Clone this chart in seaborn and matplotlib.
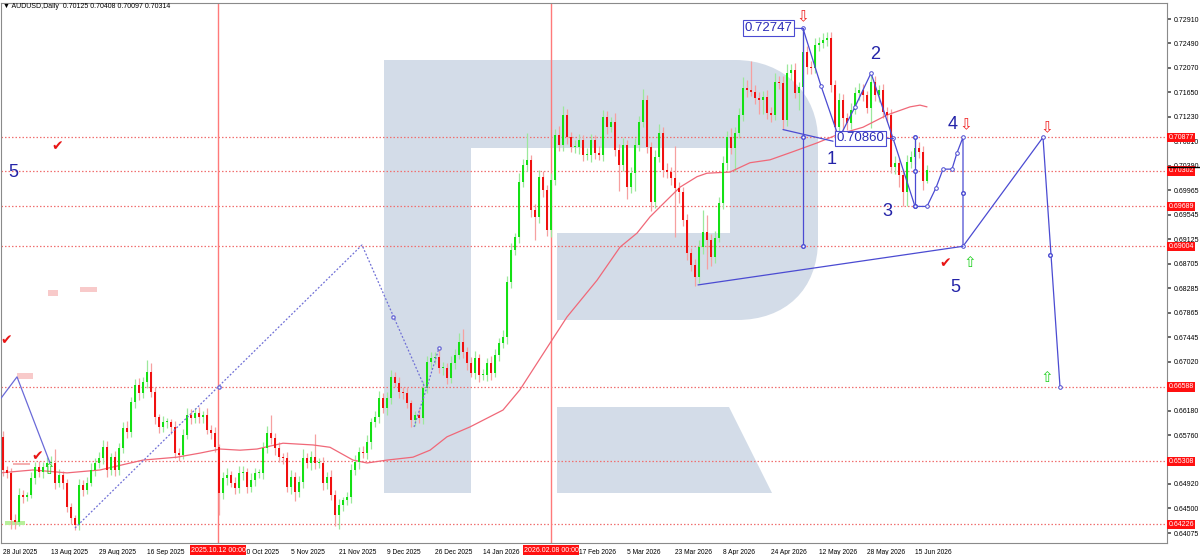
import numpy as np
import pandas as pd
import matplotlib
matplotlib.use("Agg")
import matplotlib.pyplot as plt
import seaborn as sns
from matplotlib import transforms
from matplotlib.patches import Rectangle, Polygon, PathPatch
from matplotlib.path import Path
from matplotlib.lines import Line2D

# ---------------- data ----------------
first_open = 0.6573
closes = [
0.6516, 0.6511, 0.6430, 0.6427, 0.6473, 0.6470, 0.6473, 0.6502, 0.6521, 0.6512,
0.6521, 0.6528, 0.6528, 0.6494, 0.6507, 0.6494, 0.6452, 0.6433, 0.6421, 0.6490,
0.6482, 0.6494, 0.6516, 0.6528, 0.6537, 0.6555, 0.6516, 0.6538, 0.6516, 0.6554,
0.6588, 0.6581, 0.6633, 0.6662, 0.6648, 0.6667, 0.6684, 0.6650, 0.6607, 0.6590,
0.6598, 0.6598, 0.6590, 0.6545, 0.6542, 0.6576, 0.6610, 0.6605, 0.6614, 0.6607,
0.6610, 0.6585, 0.6580, 0.6555, 0.6476, 0.6502, 0.6507, 0.6494, 0.6485, 0.6511,
0.6512, 0.6487, 0.6499, 0.6511, 0.6511, 0.6554, 0.6580, 0.6571, 0.6554, 0.6538,
0.6537, 0.6487, 0.6504, 0.6478, 0.6495, 0.6537, 0.6528, 0.6538, 0.6528, 0.6528,
0.6494, 0.6504, 0.6473, 0.6439, 0.6456, 0.6464, 0.6470, 0.6516, 0.6530, 0.6547,
0.6545, 0.6564, 0.6598, 0.6607, 0.6640, 0.6622, 0.6640, 0.6676, 0.6666, 0.6650,
0.6648, 0.6631, 0.6602, 0.6610, 0.6605, 0.6657, 0.6702, 0.6708, 0.6710, 0.6691,
0.6691, 0.6674, 0.6700, 0.6714, 0.6736, 0.6719, 0.6700, 0.6683, 0.6708, 0.6679,
0.6679, 0.6700, 0.6683, 0.6714, 0.6734, 0.6745, 0.6839, 0.6894, 0.6916, 0.7011,
0.7040, 0.7049, 0.6963, 0.6951, 0.7020, 0.6997, 0.6928, 0.7014, 0.7092, 0.7075,
0.7126, 0.7088, 0.7071, 0.7071, 0.7083, 0.7057, 0.7057, 0.7083, 0.7061, 0.7057,
0.7123, 0.7105, 0.7114, 0.7066, 0.7040, 0.7075, 0.7002, 0.7026, 0.7075, 0.7114,
0.7151, 0.7071, 0.6976, 0.7054, 0.7095, 0.7031, 0.7028, 0.7018, 0.7001, 0.6994,
0.6946, 0.6889, 0.6868, 0.6848, 0.6899, 0.6925, 0.6911, 0.6882, 0.6915, 0.6975,
0.7044, 0.7088, 0.7069, 0.7095, 0.7126, 0.7172, 0.7169, 0.7166, 0.7155, 0.7152,
0.7157, 0.7130, 0.7126, 0.7183, 0.7181, 0.7117, 0.7198, 0.7203, 0.7164, 0.7174,
0.7234, 0.7209, 0.7207, 0.7246, 0.7250, 0.7255, 0.7258, 0.7178, 0.7105, 0.7152,
0.7121, 0.7112, 0.7135, 0.7164, 0.7169, 0.7160, 0.7138, 0.7183, 0.7160, 0.7169,
0.7131, 0.7126, 0.7037, 0.7044, 0.7023, 0.6994, 0.7045, 0.7054, 0.7069, 0.7062,
0.70125, 0.70314]

# wick lengths above / below the body, in pips
up_pips = [
10, 6, 8, 10, 12, 8, 6, 10, 8, 10,
8, 10, 12, 24, 10, 8, 6, 8, 6, 10,
8, 10, 12, 8, 10, 12, 10, 8, 10, 8,
10, 12, 8, 10, 12, 8, 21, 15, 8, 6,
10, 8, 6, 10, 8, 10, 12, 10, 8, 10,
8, 12, 8, 10, 6, 10, 12, 8, 10, 12,
10, 8, 12, 8, 6, 10, 12, 30, 8, 10,
8, 10, 12, 8, 10, 15, 8, 10, 40, 8,
10, 8, 12, 8, 10, 6, 8, 10, 12, 8,
10, 12, 8, 10, 12, 8, 10, 12, 8, 10,
8, 10, 6, 8, 10, 12, 10, 10, 8, 12,
10, 8, 12, 10, 15, 22, 8, 10, 12, 8,
10, 8, 12, 10, 8, 12, 10, 12, 8, 15,
10, 46, 8, 10, 12, 10, 8, 12, 10, 15,
15, 10, 8, 12, 10, 8, 12, 10, 8, 12,
12, 10, 8, 15, 10, 12, 8, 10, 12, 10,
20, 10, 8, 12, 15, 10, 12, 8, 55, 10,
8, 10, 8, 10, 12, 38, 30, 10, 12, 10,
12, 10, 15, 10, 12, 20, 15, 50, 12, 10,
10, 12, 10, 15, 10, 12, 15, 10, 12, 8,
41, 10, 10, 12, 10, 12, 11, 10, 8, 12,
10, 8, 12, 10, 12, 10, 8, 12, 10, 8,
10, 8, 10, 12, 8, 10, 12, 10, 20, 10,
10, 9]
dn_pips = [
10, 8, 15, 12, 8, 10, 8, 6, 10, 8,
10, 8, 6, 10, 8, 10, 8, 10, 8, 8,
10, 8, 6, 10, 8, 10, 12, 8, 10, 8,
8, 10, 8, 10, 12, 8, 10, 8, 12, 10,
8, 10, 12, 8, 10, 8, 6, 10, 8, 10,
10, 8, 10, 8, 37, 10, 12, 8, 10, 8,
12, 10, 8, 10, 8, 10, 8, 10, 12, 8,
10, 8, 12, 15, 8, 10, 8, 12, 10, 8,
12, 10, 8, 20, 25, 10, 8, 10, 8, 12,
8, 10, 12, 8, 10, 8, 12, 10, 8, 10,
10, 8, 12, 10, 8, 10, 8, 12, 10, 8,
12, 10, 8, 10, 8, 10, 12, 8, 10, 12,
8, 10, 12, 8, 10, 8, 12, 10, 8, 10,
8, 10, 12, 40, 10, 12, 10, 12, 8, 10,
10, 12, 8, 10, 12, 10, 8, 12, 10, 8,
10, 12, 8, 10, 45, 10, 20, 10, 30, 10,
8, 10, 15, 10, 8, 12, 10, 12, 85, 20,
10, 12, 10, 15, 10, 12, 50, 15, 10, 8,
10, 12, 10, 40, 8, 10, 12, 8, 10, 25,
25, 10, 12, 8, 10, 15, 10, 12, 8, 30,
10, 12, 10, 8, 10, 8, 10, 12, 15, 10,
25, 12, 10, 8, 12, 10, 8, 35, 10, 12,
10, 12, 10, 12, 20, 24, 25, 10, 12, 10,
15, 3]

# date labels every 12 bars ("2 Oct" and "30 Jan" are covered by the red markers)
date_labels = ["28 Jul 2025", "13 Aug 2025", "29 Aug 2025", "16 Sep 2025", "",
               "20 Oct 2025", "5 Nov 2025", "21 Nov 2025", "9 Dec 2025", "26 Dec 2025",
               "14 Jan 2026", "", "17 Feb 2026", "5 Mar 2026", "23 Mar 2026",
               "8 Apr 2026", "24 Apr 2026", "12 May 2026", "28 May 2026", "15 Jun 2026"]
price_ticks = [0.72910, 0.72490, 0.72070, 0.71650, 0.71230, 0.70810, 0.70390, 0.69965,
               0.69545, 0.69125, 0.68705, 0.68285, 0.67865, 0.67445, 0.67020,
               0.66180, 0.65760, 0.64920, 0.64500, 0.64075]
levels = [0.70877, 0.70302, 0.69689, 0.69004, 0.66588, 0.65308, 0.64226]
vline_bars = [53.75, 137.0]
vline_texts = ["2025.10.12 00:00", "2026.02.08 00:00"]

ma_idx = [-0.75, 7.5, 16, 24.25, 35, 43.5, 49.25, 54.25, 59.25, 63.5, 70, 77.5, 81.75,
          87.5, 91, 96, 102.5, 106.75, 111, 116.75, 125, 129.25, 136.75, 141, 148.5,
          154.25, 158.5, 161.75, 166, 169.25, 173.5, 176, 181.75, 186.75, 191.75, 197.5,
          203.5, 208.5, 215, 221, 226.75, 229.25, 231]
ma_val = [0.6511, 0.6516, 0.6511, 0.6516, 0.6533, 0.6538, 0.6545, 0.6552, 0.6550, 0.6552,
          0.6562, 0.6559, 0.6555, 0.6533, 0.6528, 0.6533, 0.6538, 0.6550, 0.6573, 0.6590,
          0.6619, 0.6654, 0.6734, 0.6779, 0.6842, 0.6899, 0.6923, 0.6951, 0.6980, 0.7002,
          0.7020, 0.7026, 0.7028, 0.7044, 0.7049, 0.7063, 0.7078, 0.7092, 0.7105, 0.7126,
          0.7140, 0.7143, 0.7140]

# wave drawing (bar index, price)
wave_x = [200, 204.5, 209, 213, 217, 222.5, 228, 231, 233.25, 235, 237.25, 238.5, 240, 240, 260, 264.25]
wave_y = [0.72747, 0.7176, 0.70860, 0.7140, 0.7198, 0.70860, 0.69689, 0.69689, 0.7001, 0.7033,
          0.7033, 0.7061, 0.70877, 0.69004, 0.70877, 0.66588]
wave_names = ["1", "2", "3", "4", "5", "5"]
wave_name_x = [207.25, 218, 221, 237.4, 238, 2.5]
wave_name_y = [0.70487, 0.72292, 0.69594, 0.71089, 0.68288, 0.70264]

# ---------------- figure ----------------
sns.set_theme(style="white")
plt.rcParams['font.family'] = ['Liberation Sans', 'DejaVu Sans']

W, H = 1200, 555
fig = plt.figure(figsize=(12, 5.55), dpi=100)
fig.patch.set_facecolor("white")
ax = fig.add_axes([1 / W, 12 / H, 1166 / W, 540 / H])
ax.set_facecolor("white")
pix = transforms.Affine2D().scale(1 / W, -1 / H).translate(0, 1) + fig.transFigure

ax.set_xlim(-0.5, 291)
ax.set_ylim(0.63905, 0.73185)

# watermark logo
wm = "#d3dce8"
ax.add_patch(Rectangle((384, 60), 87, 433, transform=pix, fc=wm, ec="none", zorder=0.2))
verts = [(471, 60), (735, 60), (785, 60), (818, 95), (818, 140), (818, 240),
         (818, 290), (785, 320), (737, 320), (557, 320), (557, 233), (730, 233),
         (730, 148), (471, 148), (471, 60)]
codes = [Path.MOVETO, Path.LINETO, Path.CURVE4, Path.CURVE4, Path.CURVE4, Path.LINETO,
         Path.CURVE4, Path.CURVE4, Path.CURVE4, Path.LINETO, Path.LINETO, Path.LINETO,
         Path.LINETO, Path.LINETO, Path.CLOSEPOLY]
ax.add_patch(PathPatch(Path(verts, codes), transform=pix, fc=wm, ec="none", zorder=0.2))
ax.add_patch(Polygon([(557, 407), (729, 407), (772, 493), (557, 493)], closed=True,
                     transform=pix, fc=wm, ec="none", zorder=0.2))

# levels and vertical lines
for p in levels:
    ax.axhline(p, color="#f07070", lw=0.9, ls=(0, (1.2, 1.6)), zorder=1)
for b in vline_bars:
    ax.axvline(b, color="#ff7a7a", lw=1.0, zorder=1)

# candles
c = np.array(closes)
o = np.concatenate([[first_open], c[:-1]])
hi = np.maximum(o, c) + np.array(up_pips) * 0.0001
lo = np.minimum(o, c) - np.array(dn_pips) * 0.0001
idx = np.arange(len(c))
bull = c >= o
body_col = np.where(bull, "#14e014", "#f01010")
wick_col = np.where(bull, "#9ce89c", "#f6a0a0")
ax.vlines(idx, lo, hi, colors=wick_col, lw=0.9, zorder=2)
bottom = np.minimum(o, c)
height = np.maximum(np.abs(c - o), 0.00018)
ax.bar(idx, height, bottom=bottom, width=0.72, color=body_col, linewidth=0, zorder=3)

# moving average
ma_df = pd.DataFrame({"bar": ma_idx, "ma": ma_val})
sns.lineplot(data=ma_df, x="bar", y="ma", ax=ax, color="#f06878", lw=0.9, zorder=2.5,
             sort=False, estimator=None)
ax.set_xlabel("")
ax.set_ylabel("")

# wave drawings
blue = "#4b4bd2"
ax.plot(wave_x, wave_y, color=blue, lw=0.9, zorder=4, marker="o", ms=2.6,
        mfc="white", mec=blue, mew=0.7)
ax.plot([200, 200], [0.72747, 0.69004], color=blue, lw=0.9, zorder=4)
ax.plot([200, 200], [0.70877, 0.69004], ls="none", marker="o", ms=2.6, mfc="white", mec=blue, zorder=4)
ax.plot([195, 207.5], [0.7101, 0.7081], color=blue, lw=0.9, zorder=4)
ax.plot([173.75, 240], [0.6834, 0.69004], color=blue, lw=0.9, zorder=4)
ax.plot([228, 228], [0.70877, 0.69689], color=blue, lw=0.9, zorder=4, marker="o", ms=2.6,
        mfc="white", mec=blue)
ax.plot([228], [0.70302], ls="none", marker="o", ms=2.6, mfc="white", mec=blue, zorder=4)
ax.plot([240], [0.6992], ls="none", marker="o", ms=2.6, mfc="white", mec=blue, zorder=4)
ax.plot([261.75], [0.6886], ls="none", marker="o", ms=2.6, mfc="white", mec=blue, zorder=4)
ax.plot([-0.75, 3.5, 11.75], [0.6637, 0.6676, 0.6528], color="#6a6ad8", lw=0.9, zorder=4)
ax.plot([18, 89.75, 105.5], [0.64163, 0.69026, 0.66569], color="#6f6fd6", lw=0.9,
        ls=(0, (1.5, 1.5)), zorder=4)
ax.plot([102.75, 105.75, 109], [0.65899, 0.66534, 0.67256], color="#6f6fd6", lw=0.9,
        ls=(0, (1.5, 1.5)), zorder=4)
ax.plot([53.9, 97.6, 109], [0.6658, 0.6779, 0.67256], ls="none", marker="o", ms=2.4,
        mfc="white", mec="#6f6fd6", zorder=4)

# price boxes
ax.plot([198, 200], [0.7275, 0.72747], color=blue, lw=0.8, zorder=4)
ax.text(191.3, 0.72755, "0.72747", fontsize=9.5, color="#2b2bb8", ha="center", va="center",
        bbox=dict(boxstyle="square,pad=0.12", fc="white", ec=blue, lw=0.8), zorder=6)
ax.plot([221, 222.5], [0.70860, 0.70860], color=blue, lw=0.8, zorder=4)
ax.text(214.3, 0.70860, "0.70860", fontsize=9.5, color="#2b2bb8", ha="center", va="center",
        bbox=dict(boxstyle="square,pad=0.12", fc="white", ec=blue, lw=0.8), zorder=6)

for t, x, y in zip(wave_names, wave_name_x, wave_name_y):
    ax.text(x, y, t, fontsize=13, color="#2323a8", ha="center", va="center", zorder=6)

# arrows and checks
for x, y in [(200, 0.72945), (240.6, 0.71089), (261, 0.71037)]:
    ax.text(x, y, "\u21e9", fontsize=11, color="#f02020", ha="center", va="center",
            family=["DejaVu Sans"], zorder=6)
for x, y in [(241.75, 0.68734), (261, 0.66741), (11.5, 0.6517)]:
    ax.text(x, y, "\u21e7", fontsize=11, color="#22d022", ha="center", va="center",
            family=["DejaVu Sans"], zorder=6)
for x, y in [(13.5, 0.70728), (0.8, 0.67394), (8.5, 0.6540), (235.5, 0.68717)]:
    ax.text(x, y, "\u2714", fontsize=10, color="#e81515", ha="center", va="center",
            family=["DejaVu Sans"], zorder=6)

# small marks at the left
for (x0, y0, w, h, col) in [(17, 373, 16, 6, "#f8caca"), (48, 290, 10, 6, "#f8caca"),
                            (80, 287, 17, 5, "#f8caca"), (13, 463, 17, 2, "#f4b0b0"),
                            (5, 521, 20, 4, "#b8ef9a")]:
    ax.add_patch(Rectangle((x0, y0), w, h, transform=pix, fc=col, ec="none", zorder=1.5))

# axes styling
for s in ax.spines.values():
    s.set_color("#8a8a8a")
    s.set_linewidth(0.8)
ax.set_xticks(np.arange(0, 229, 12))
ax.set_xticklabels(date_labels, ha="left", fontsize=4.8)
ax.yaxis.tick_right()
ax.set_yticks(price_ticks)
ax.set_yticklabels([f"{p:.5f}" for p in price_ticks], fontsize=5)
ax.tick_params(axis="x", direction="out", length=3, pad=1.2, color="#555555", labelcolor="black")
ax.tick_params(axis="y", direction="out", length=3, pad=1.5, color="#555555", labelcolor="black",
               right=True, left=False)
ax.grid(False)

yt = transforms.blended_transform_factory(ax.transAxes, ax.transData)
for p in levels:
    ax.text(1.0015, p, f"{p:.5f}", transform=yt, fontsize=5, color="white", ha="left",
            va="center", clip_on=False, zorder=10,
            bbox=dict(boxstyle="square,pad=0.18", fc="#ff1010", ec="none"))
fig.add_artist(Line2D([1168, 1200], [167, 167], transform=pix, color="black", lw=1.0))

xt = transforms.blended_transform_factory(ax.transData, pix)
for b, t in zip(vline_bars, vline_texts):
    ax.text(b, 550, t, transform=xt, fontsize=5, color="white", ha="center", va="center",
            clip_on=False, zorder=10,
            bbox=dict(boxstyle="square,pad=0.15", fc="#ff1010", ec="none"))

fig.text(3, 7, "\u25bc AUDUSD,Daily  0.70125 0.70408 0.70097 0.70314", transform=pix,
         fontsize=5, color="black", ha="left", va="center")

fig.savefig("out.png", dpi=100)
